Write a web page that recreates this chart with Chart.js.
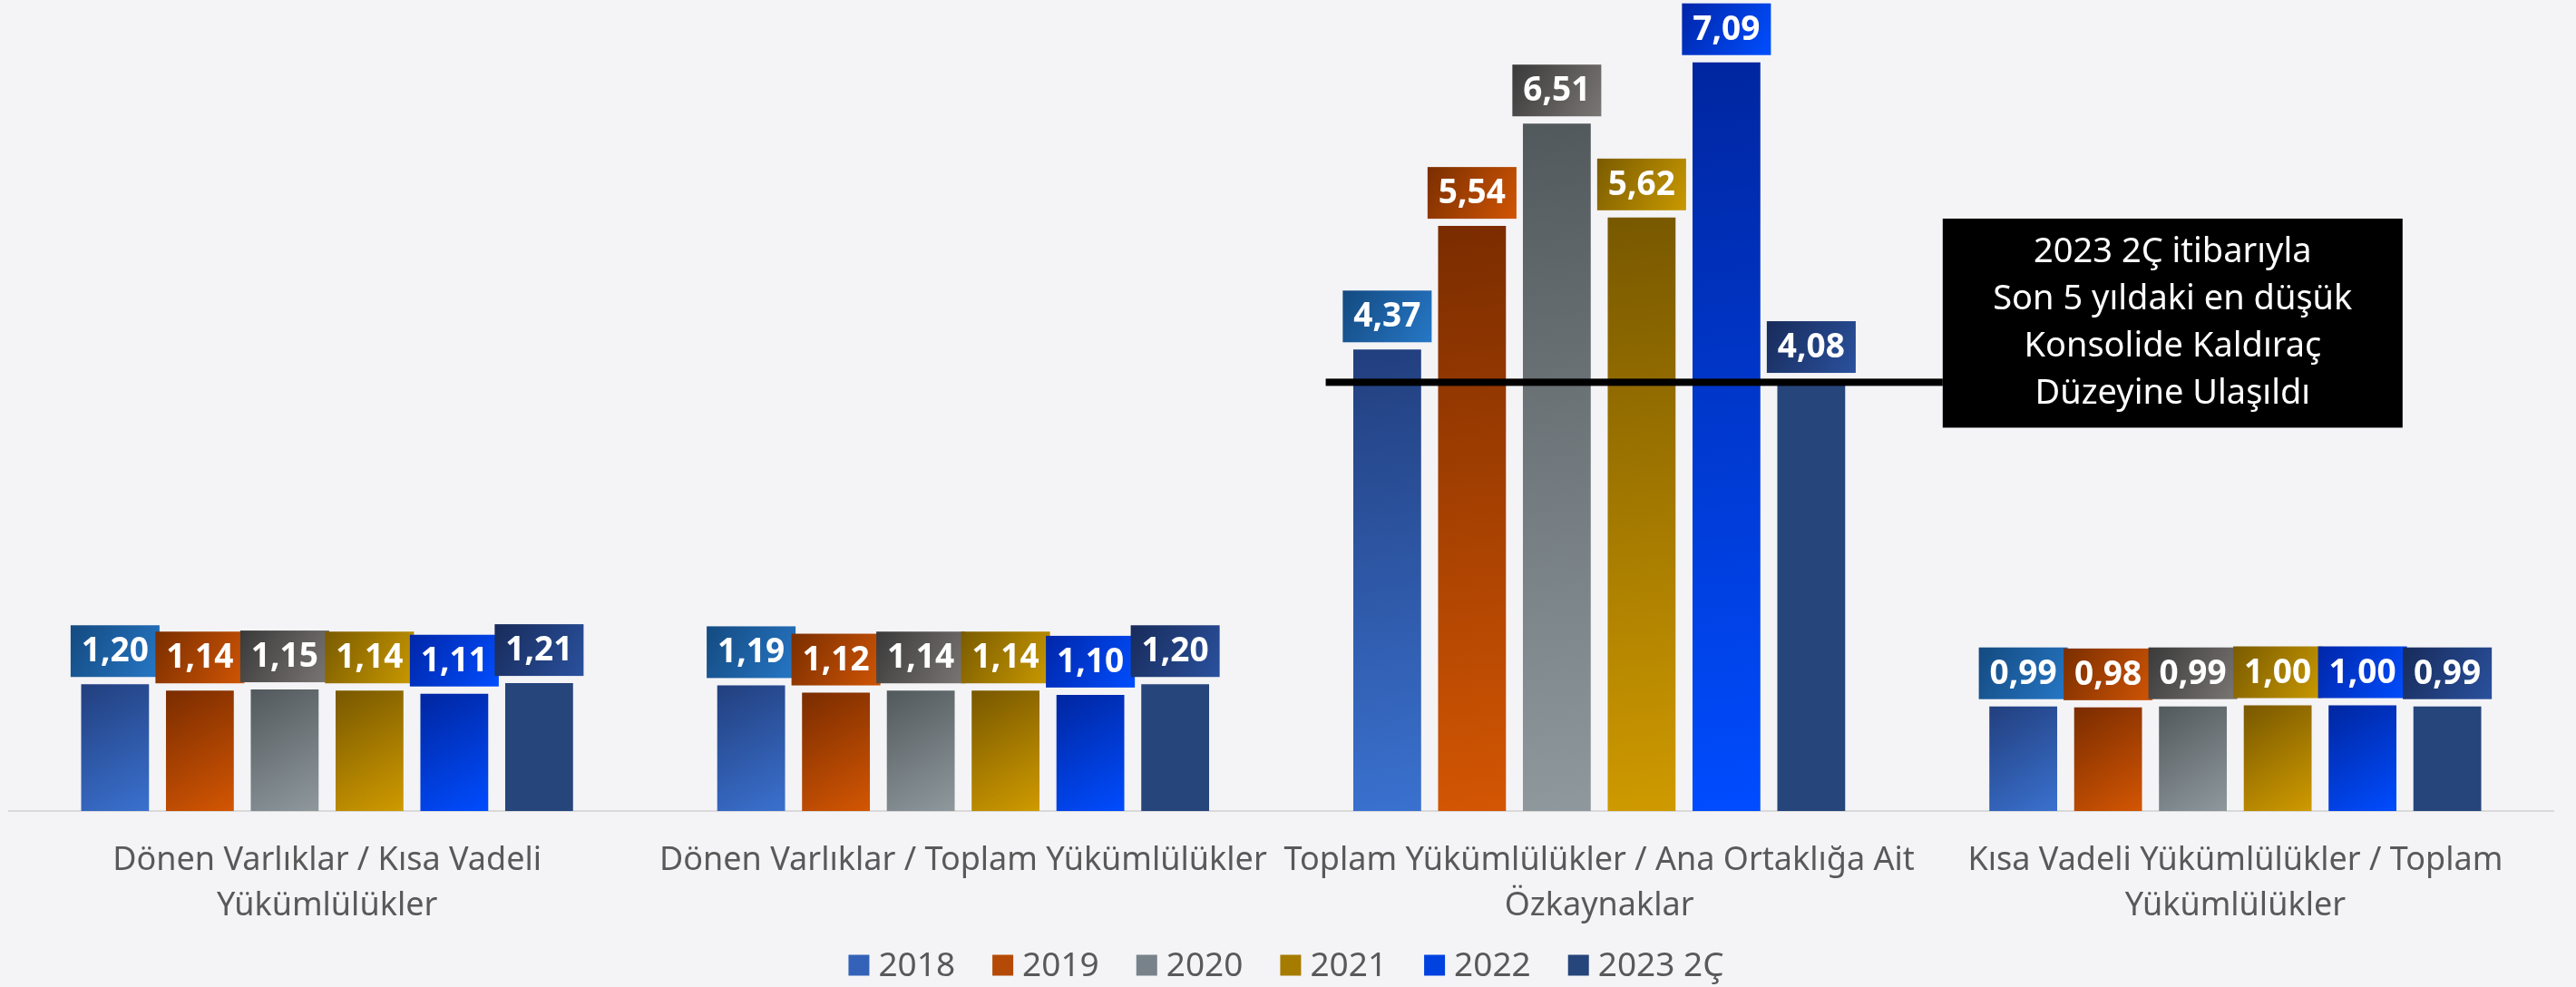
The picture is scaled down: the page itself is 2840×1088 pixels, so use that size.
<!DOCTYPE html>
<html><head><meta charset="utf-8">
<script src="https://cdn.jsdelivr.net/npm/chart.js@4/dist/chart.umd.min.js"></script>
<style>html,body{margin:0;padding:0;background:#f4f4f7;} #wrap{width:2840px;height:1088px;}</style>
</head><body><div id="wrap"><canvas id="c" width="2840" height="1088"></canvas></div>
<script>
// ---- data ----
const categories = [
  ['Dönen Varlıklar / Kısa Vadeli', 'Yükümlülükler'],
  'Dönen Varlıklar / Toplam Yükümlülükler',
  ['Toplam Yükümlülükler / Ana Ortaklığa Ait', 'Özkaynaklar'],
  ['Kısa Vadeli Yükümlülükler / Toplam', 'Yükümlülükler']
];
const seriesNames = ['2018', '2019', '2020', '2021', '2022', '2023 2Ç'];
const v2018 = [1.20, 1.19, 4.37, 0.99];
const v2019 = [1.14, 1.12, 5.54, 0.98];
const v2020 = [1.15, 1.14, 6.51, 0.99];
const v2021 = [1.14, 1.14, 5.62, 1.00];
const v2022 = [1.11, 1.10, 7.09, 1.00];
const v2023 = [1.21, 1.20, 4.08, 0.99];
const annotationLines = ['2023 2Ç itibarıyla', 'Son 5 yıldaki en düşük', 'Konsolide Kaldıraç', 'Düzeyine Ulaşıldı'];
const annotationLevel = 4.06;

// ---- styles ----
const FONT = '"Noto Sans", "DejaVu Sans", sans-serif';
const barColors = [
  ['#223f7e', '#3a71cf'],
  ['#7a2c00', '#d35603'],
  ['#52595d', '#8f999d'],
  ['#785800', '#cf9a00'],
  ['#0026a0', '#004cff'],
  ['#26457b', '#26457b']
];
const labelColors = [
  ['#144a80', '#2677c6'],
  ['#7a2e00', '#d05504'],
  ['#3a3a3a', '#7a7674'],
  ['#7a5b00', '#c99900'],
  ['#0026a8', '#004eff'],
  ['#182b5a', '#2a519e']
];
const legendColors = ['#3462b8', '#b44a05', '#77828a', '#a67c00', '#0042e0', '#26457b'];
const allValues = [v2018, v2019, v2020, v2021, v2022, v2023];
const CAT_PCT = 0.8, BAR_PCT = 0.8;

function barGradient(ctx, di) {
  const chart = ctx.chart;
  const xs = chart.scales.x, ys = chart.scales.y;
  if (!xs || !ys || ctx.type !== 'data' || !xs.width) return barColors[di][1];
  const n = seriesNames.length;
  const center = xs.getPixelForValue(ctx.dataIndex);
  const cw = xs.width / categories.length;
  const slot = cw * CAT_PCT / n;
  const left = center - cw * CAT_PCT / 2 + slot * di + slot * (1 - BAR_PCT) / 2;
  const right = left + slot * BAR_PCT;
  const top = ys.getPixelForValue(ctx.raw), bottom = ys.getPixelForValue(0);
  const g = chart.ctx.createLinearGradient(left, top, right, bottom);
  g.addColorStop(0, barColors[di][0]);
  g.addColorStop(1, barColors[di][1]);
  return g;
}

const datasets = allValues.map((vals, di) => ({
  label: seriesNames[di],
  data: vals,
  backgroundColor: (ctx) => barGradient(ctx, di),
  borderWidth: 0,
  categoryPercentage: CAT_PCT,
  barPercentage: BAR_PCT
}));

const fmt = v => v.toFixed(2).replace('.', ',');

const labelPlugin = {
  id: 'valueLabels',
  afterDatasetsDraw(chart) {
    const c = chart.ctx;
    c.save();
    c.font = 'bold 37px ' + FONT;
    c.textAlign = 'center';
    c.textBaseline = 'middle';
    chart.data.datasets.forEach((ds, di) => {
      const meta = chart.getDatasetMeta(di);
      meta.data.forEach((el, i) => {
        const txt = fmt(ds.data[i]);
        const tw = c.measureText(txt).width;
        const w = tw + 24, h = 57;
        const x0 = el.x - w / 2, y1 = el.y - 8, y0 = y1 - h;
        const g = c.createLinearGradient(x0, y0, x0 + w, y1);
        g.addColorStop(0, labelColors[di][0]);
        g.addColorStop(1, labelColors[di][1]);
        c.fillStyle = g;
        c.fillRect(x0, y0, w, h);
        c.fillStyle = '#ffffff';
        c.fillText(txt, el.x, y0 + h / 2 + 1);
      });
    });
    c.restore();
  }
};

const annotationPlugin = {
  id: 'annotation',
  afterDatasetsDraw(chart) {
    const c = chart.ctx;
    const xs = chart.scales.x, ys = chart.scales.y;
    const cw = xs.width / categories.length;
    const c2 = xs.getPixelForValue(2), c3 = xs.getPixelForValue(3);
    const lineY = ys.getPixelForValue(annotationLevel);
    const boxL = c2 + 0.54 * cw, boxR = c3 + 0.263 * cw;
    const boxT = ys.getPixelForValue(5.61), boxB = ys.getPixelForValue(3.63);
    c.save();
    c.fillStyle = '#000000';
    c.fillRect(c2 - 0.43 * cw, lineY - 4, boxL - (c2 - 0.43 * cw), 8);
    c.fillRect(boxL, boxT, boxR - boxL, boxB - boxT);
    c.fillStyle = '#ffffff';
    c.font = '38px ' + FONT;
    c.textAlign = 'center';
    c.textBaseline = 'middle';
    const cx = (boxL + boxR) / 2, cy = (boxT + boxB) / 2;
    const lh = 52;
    annotationLines.forEach((t, i) => {
      c.fillText(t, cx, cy + (i - (annotationLines.length - 1) / 2) * lh);
    });
    c.restore();
  }
};

const legendPlugin = {
  id: 'customLegend',
  afterDraw(chart) {
    const c = chart.ctx;
    c.save();
    c.font = '37px ' + FONT;
    c.textBaseline = 'middle';
    c.textAlign = 'left';
    const box = 23, gap = 10, itemGap = 41;
    const widths = seriesNames.map(s => box + gap + c.measureText(s).width);
    const total = widths.reduce((a, b) => a + b, 0) + itemGap * (seriesNames.length - 1);
    let x = chart.width / 2 - total / 2 - 2;
    const cy = 1064;
    seriesNames.forEach((s, i) => {
      c.fillStyle = legendColors[i];
      c.fillRect(x, cy - box / 2, box, box);
      c.fillStyle = '#595959';
      c.fillText(s, x + box + gap, cy + 1);
      x += widths[i] + itemGap;
    });
    c.restore();
  }
};

const bgPlugin = {
  id: 'bg',
  beforeDraw(chart) {
    const c = chart.ctx;
    c.save();
    c.fillStyle = '#f4f4f7';
    c.fillRect(0, 0, chart.width, chart.height);
    c.restore();
  }
};

new Chart(document.getElementById('c'), {
  type: 'bar',
  data: { labels: categories, datasets },
  options: {
    responsive: false,
    animation: false,
    devicePixelRatio: 1,
    layout: { padding: { left: 10, right: 25, top: 21, bottom: 34 } },
    plugins: { legend: { display: false }, tooltip: { enabled: false } },
    scales: {
      x: {
        grid: { display: false, drawTicks: false },
        border: { display: true, color: '#d9d9d9', width: 2 },
        ticks: { color: '#595959', font: { family: FONT, size: 36, lineHeight: 1.39 }, padding: 30, maxRotation: 0, autoSkip: false }
      },
      y: { display: false, min: 0, max: 7.5 }
    }
  },
  plugins: [bgPlugin, labelPlugin, annotationPlugin, legendPlugin]
});
</script>
</body></html>
